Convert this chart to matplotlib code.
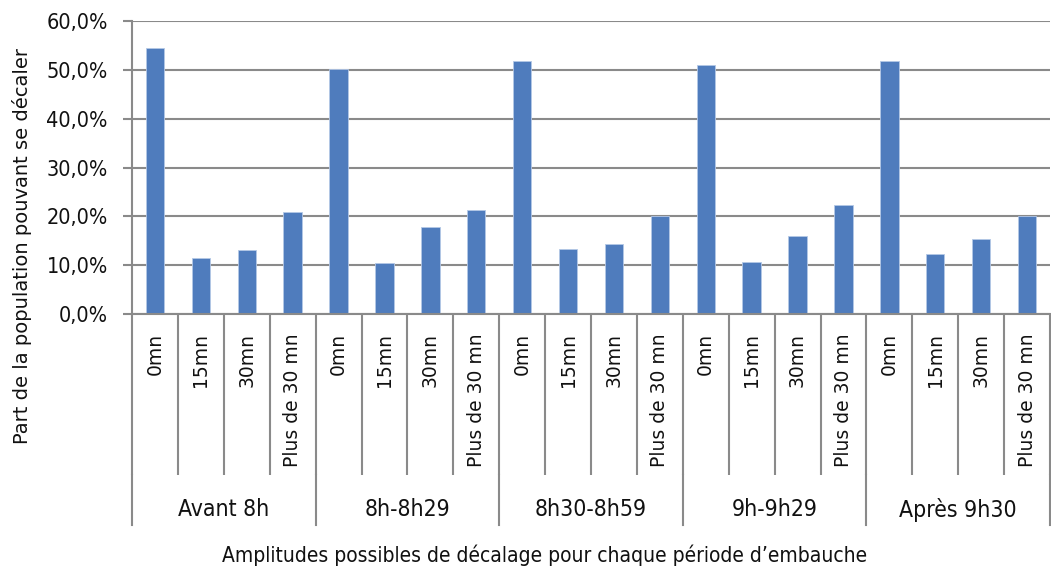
import matplotlib
matplotlib.use("Agg")
import matplotlib.pyplot as plt
from matplotlib import font_manager
from matplotlib.lines import Line2D
from matplotlib.ticker import FuncFormatter
from matplotlib.transforms import blended_transform_factory

# ---- data ----
groups = ["Avant 8h", "8h-8h29", "8h30-8h59", "9h-9h29", "Après 9h30"]
amplitudes = ["0mn", "15mn", "30mn", "Plus de 30 mn"]
avant_8h = [54.4, 11.4, 13.2, 20.9]
h8_8h29 = [50.1, 10.4, 17.9, 21.3]
h8h30_8h59 = [51.9, 13.4, 14.4, 20.0]
h9_9h29 = [51.0, 10.7, 15.9, 22.3]
apres_9h30 = [51.9, 12.2, 15.4, 20.0]
series = [avant_8h, h8_8h29, h8h30_8h59, h9_9h29, apres_9h30]
y_ticks = [0, 10, 20, 30, 40, 50, 60]
y_label = "Part de la population pouvant se décaler"
x_label = "Amplitudes possibles de décalage pour chaque période d’embauche"

# ---- fonts ----
names = {f.name for f in font_manager.fontManager.ttflist}
if "Liberation Sans Narrow" in names:
    narrow = dict(family="Liberation Sans Narrow")
else:
    narrow = dict(family="DejaVu Sans", stretch="condensed")
wide = dict(family="DejaVu Sans")

W, H = 1051, 567
fig = plt.figure(figsize=(W / 100, H / 100), dpi=100)
left_px, right_px, top_px, bot_px = 132, 1050, 21, 314
ax = fig.add_axes([left_px / W, 1 - bot_px / H, (right_px - left_px) / W, (bot_px - top_px) / H])

grid_c = "#8a8a8a"
txt_c = "#111111"
bar_c = "#4f7cbd"

values = [v for s in series for v in s]
labels = [a for _ in groups for a in amplitudes]
xs = list(range(len(values)))
ax.bar(xs, values, width=0.4, color=bar_c, edgecolor="#b4c8e6", linewidth=0.6, zorder=3)

ax.set_xlim(-0.5, len(values) - 0.5)
ax.set_ylim(0, 60)
ax.set_yticks(y_ticks)
ax.yaxis.set_major_formatter(FuncFormatter(lambda v, p: f"{v:.1f}%".replace(".", ",")))
ax.grid(axis="y", color=grid_c, linewidth=1.5, zorder=0)
ax.set_axisbelow(True)
for s in ["right", "top", "bottom"]:
    ax.spines[s].set_visible(False)
ax.spines["left"].set_color(grid_c)
ax.spines["left"].set_linewidth(1.5)
ax.axhline(0, color=grid_c, linewidth=1.5, zorder=4, clip_on=False)
ax.tick_params(axis="y", length=6.5, width=1.5, color=grid_c, pad=11, labelsize=15.5, labelcolor=txt_c)
for lab in ax.get_yticklabels():
    lab.set_fontfamily(narrow["family"])
    if "stretch" in narrow:
        lab.set_fontstretch(narrow["stretch"])

# category separator ticks
ax.set_xticks([i - 0.5 for i in range(len(values) + 1)])
ax.set_xticklabels([])
ax.tick_params(axis="x", length=(475 - 314) * 0.72, width=1.5, color=grid_c, direction="out")

xt = ax.get_xaxis_transform()
# category labels
for x, lab in zip(xs, labels):
    ax.annotate(lab, xy=(x, 0), xycoords=xt, xytext=(0, -19 * 0.72), textcoords="offset points",
                rotation=90, ha="center", va="top", fontsize=13.5, color=txt_c, **wide)

# group labels
n = len(amplitudes)
for g, name in enumerate(groups):
    ax.annotate(name, xy=(g * n + (n - 1) / 2, 0), xycoords=xt, xytext=(0, -(510 - 314) * 0.72),
                textcoords="offset points", ha="center", va="center", fontsize=16.5, color=txt_c, **narrow)

# group separators
bt = blended_transform_factory(ax.transData, fig.transFigure)
for g in range(len(groups) + 1):
    xb = g * n - 0.5
    fig.add_artist(Line2D([xb, xb], [1 - 475 / H, 1 - 525 / H], transform=bt, color=grid_c,
                          linewidth=1.5, clip_on=False))

fig.text(22 / W, 1 - 246 / H, y_label, rotation=90, ha="center", va="center", fontsize=14,
         color=txt_c, **wide)
fig.text(545 / W, 1 - 555 / H, x_label, ha="center", va="center", fontsize=15, color=txt_c, **narrow)

fig.savefig("out.png", dpi=100, facecolor="white")
